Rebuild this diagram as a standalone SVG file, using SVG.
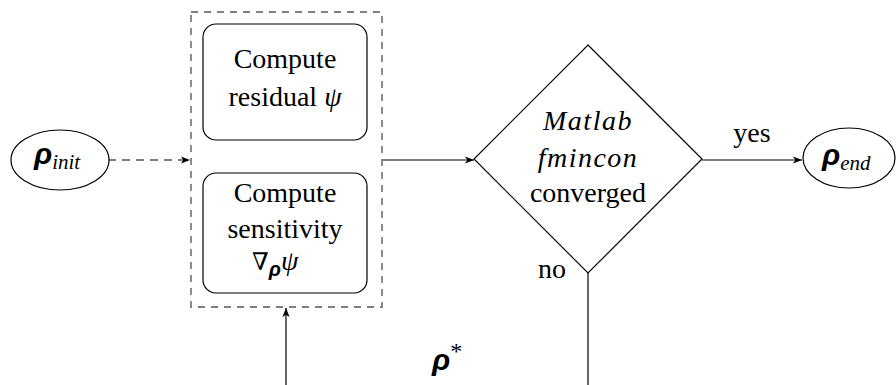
<svg xmlns="http://www.w3.org/2000/svg" width="896" height="385" viewBox="0 0 896 385">
<defs>
<marker id="arr" viewBox="0 0 10 10" refX="10" refY="5" markerWidth="9" markerHeight="9" markerUnits="userSpaceOnUse" orient="auto">
<path d="M0,1 L10,5 L0,9 L2.5,5 Z" fill="#000"/>
</marker>
</defs>
<style>
.t{font-family:"Liberation Serif","Times New Roman",serif;font-size:28px;fill:#000}
.it{font-style:italic}
.sub{font-family:"Liberation Serif","Times New Roman",serif;font-style:italic;font-size:21px;fill:#000}
.ast{font-family:"Liberation Serif","Times New Roman",serif;font-size:24px;fill:#000}
.nab{font-family:"DejaVu Serif","Liberation Serif",serif;font-size:24px;fill:#000}
.rho{font-family:"Liberation Sans",Arial,sans-serif;font-weight:bold;font-style:italic;font-size:30px;fill:#000}
.rhos{font-family:"Liberation Sans",Arial,sans-serif;font-weight:bold;font-style:italic;font-size:20px;fill:#000}
.box{fill:#fff;stroke:#000;stroke-width:1.2}
.line{fill:none;stroke:#000;stroke-width:1.2}
</style>
<rect width="896" height="385" fill="#fff"/>

<g id="connectors">
<line class="line" x1="108" y1="160" x2="190" y2="160" stroke-dasharray="8,6" marker-end="url(#arr)"/>
<line class="line" x1="382" y1="160" x2="474" y2="160" marker-end="url(#arr)"/>
<line class="line" x1="702" y1="160" x2="802" y2="160" marker-end="url(#arr)"/>
<line class="line" x1="588" y1="273" x2="588" y2="385"/>
<line class="line" x1="286" y1="385" x2="286" y2="308" marker-end="url(#arr)"/>
</g>

<g id="rho_init">
<ellipse class="box" cx="60" cy="160" rx="49" ry="30"/>
<text x="34" y="164"><tspan class="rho">ρ</tspan><tspan class="sub" dy="5">init</tspan></text>
</g>

<g id="group_box">
<rect x="191" y="12" width="191" height="295" fill="none" stroke="#808080" stroke-width="1.8" stroke-dasharray="7,6"/>
</g>

<g id="residual">
<rect class="box" x="203" y="24" width="164" height="116" rx="13"/>
<text class="t" x="285" y="68" text-anchor="middle">Compute</text>
<text class="t" x="285" y="106" text-anchor="middle">residual <tspan class="it">ψ</tspan></text>
</g>

<g id="sensitivity">
<rect class="box" x="203" y="173" width="164" height="120" rx="13"/>
<text class="t" x="285" y="202" text-anchor="middle">Compute</text>
<text class="t" x="285" y="238" text-anchor="middle">sensitivity</text>
<text x="252" y="270"><tspan class="nab">∇</tspan><tspan class="rhos" dy="6">ρ</tspan><tspan class="t it" dy="-6">ψ</tspan></text>
</g>

<g id="decision">
<polygon class="box" points="588,45 702,159 588,273 474,159"/>
<text class="t it" x="588" y="130" text-anchor="middle" letter-spacing="1.5">Matlab</text>
<text class="t it" x="588" y="167" text-anchor="middle" letter-spacing="1.5">fmincon</text>
<text class="t" x="588" y="202" text-anchor="middle">converged</text>
</g>

<g id="labels">
<text class="t" x="752" y="142" text-anchor="middle">yes</text>
<text class="t" x="552" y="278" text-anchor="middle">no</text>
<text x="432" y="370"><tspan class="rho">ρ</tspan><tspan class="ast" dy="-11">*</tspan></text>
</g>

<g id="rho_end">
<ellipse class="box" cx="849" cy="158" rx="46" ry="30"/>
<text x="822" y="165"><tspan class="rho">ρ</tspan><tspan class="sub" dy="5">end</tspan></text>
</g>
</svg>
